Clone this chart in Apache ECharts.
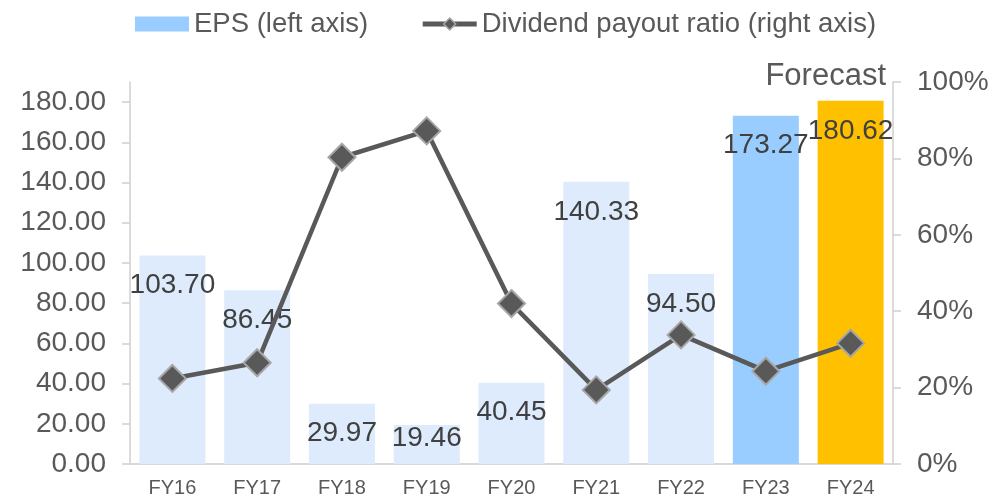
<!DOCTYPE html>
<html>
<head>
<meta charset="utf-8">
<script src="https://cdn.jsdelivr.net/npm/echarts@6/dist/echarts.min.js"></script>
<style>
  html, body { margin: 0; padding: 0; background: #fff; }
  #chart { width: 992px; height: 498px; }
</style>
</head>
<body>
<div id="chart"></div>
<script>
const categories = ['FY16', 'FY17', 'FY18', 'FY19', 'FY20', 'FY21', 'FY22', 'FY23', 'FY24'];
const eps = [103.70, 86.45, 29.97, 19.46, 40.45, 140.33, 94.50, 173.27, 180.62];
const payoutRatio = [0.224, 0.265, 0.803, 0.872, 0.420, 0.194, 0.338, 0.243, 0.316];
const leftTicks = [0, 20, 40, 60, 80, 100, 120, 140, 160, 180];

const textGrey = '#595959';
const labelGrey = '#404040';
const axisGrey = '#cfcfcf';
const font = '"Liberation Sans", Arial, sans-serif';

function barColor(i) {
  if (categories[i] === 'FY24') return '#ffc000';
  if (categories[i] === 'FY23') return '#99ccff';
  return '#ddebfd';
}

const barData = eps.map((v, i) => {
  const item = { value: v, itemStyle: { color: barColor(i) } };
  // short bar: label sits nearer its top
  if (i === 3) item.label = { offset: [0, -17] };
  return item;
});

const chart = echarts.init(document.getElementById('chart'));
chart.setOption({
  animation: false,
  textStyle: { fontFamily: font },
  legend: {
    left: 135,
    top: 10,
    padding: 0,
    itemWidth: 54,
    itemHeight: 15,
    itemGap: 52,
    textStyle: { fontSize: 27.5, color: textGrey, fontFamily: font },
    data: [
      { name: 'EPS (left axis)', icon: 'rect', itemStyle: { color: '#99ccff' } },
      {
        name: 'Dividend payout ratio (right axis)',
        lineStyle: { color: '#595959', width: 5 },
        itemStyle: { color: '#595959', borderColor: '#a6a6a6', borderWidth: 1.5 }
      }
    ]
  },
  grid: { left: 130, right: 99, top: 82, bottom: 33 },
  graphic: [{
    type: 'text',
    right: 106,
    top: 61,
    style: { text: 'Forecast', fontSize: 31, fill: textGrey, fontFamily: font }
  }],
  xAxis: {
    type: 'category',
    data: categories,
    axisLine: { lineStyle: { color: '#d9d9d9', width: 2 } },
    axisTick: { show: false },
    axisLabel: { fontSize: 20, color: textGrey, margin: 14, fontFamily: font }
  },
  yAxis: [
    {
      type: 'value',
      min: 0,
      max: 190,
      interval: 20,
      splitLine: { show: false },
      axisLine: { show: true, lineStyle: { color: axisGrey, width: 1.5 } },
      axisTick: { show: true, length: 8, customValues: leftTicks, lineStyle: { color: axisGrey, width: 1.5 } },
      axisLabel: {
        fontSize: 28, color: textGrey, margin: 24, fontFamily: font,
        customValues: leftTicks,
        formatter: v => v.toFixed(2)
      }
    },
    {
      type: 'value',
      min: 0,
      max: 1,
      interval: 0.2,
      position: 'right',
      splitLine: { show: false },
      axisLine: { show: true, lineStyle: { color: axisGrey, width: 1.5 } },
      axisTick: { show: true, length: 8, lineStyle: { color: axisGrey, width: 1.5 } },
      axisLabel: {
        fontSize: 28, color: textGrey, margin: 24, fontFamily: font,
        formatter: v => Math.round(v * 100) + '%'
      }
    }
  ],
  series: [
    {
      name: 'EPS (left axis)',
      type: 'bar',
      barWidth: 66,
      data: barData,
      label: {
        show: true,
        position: 'insideTop',
        distance: 16,
        fontSize: 28,
        color: labelGrey,
        fontFamily: font,
        formatter: p => p.value.toFixed(2)
      }
    },
    {
      name: 'Dividend payout ratio (right axis)',
      type: 'line',
      yAxisIndex: 1,
      z: 5,
      data: payoutRatio,
      symbol: 'diamond',
      symbolSize: 27,
      lineStyle: { color: '#595959', width: 4.5 },
      itemStyle: { color: '#595959', borderColor: '#a6a6a6', borderWidth: 2 }
    }
  ]
});
</script>
</body>
</html>
